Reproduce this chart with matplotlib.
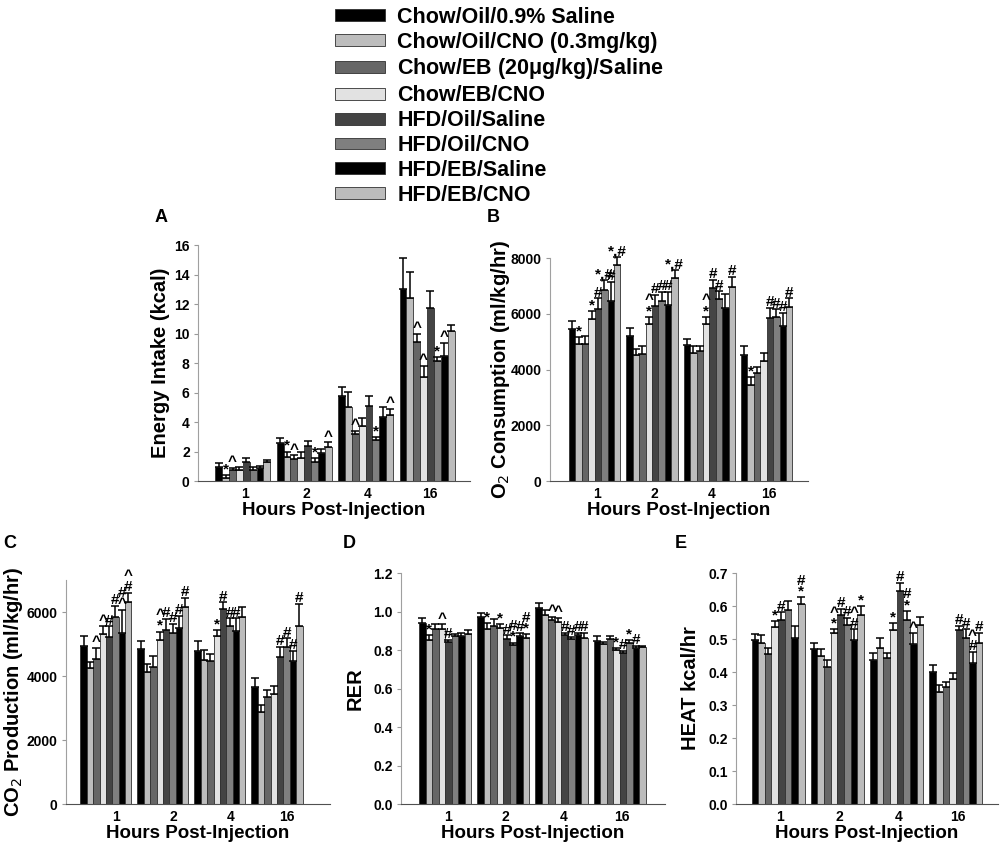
import numpy as np
import matplotlib
matplotlib.use('Agg')
import matplotlib.pyplot as plt

# 8 treatment groups, 4 time points (hours post-injection)
hours = ['1', '2', '4', '16']
groups = ['Chow/Oil/0.9% Saline', 'Chow/Oil/CNO (0.3mg/kg)', 'Chow/EB (20$\\mathregular{\\mu}$g/kg)/Saline',
          'Chow/EB/CNO', 'HFD/Oil/Saline', 'HFD/Oil/CNO', 'HFD/EB/Saline', 'HFD/EB/CNO']
colors = ['#000000', '#bdbdbd', '#666666', '#e2e2e2', '#444444', '#7f7f7f', '#000000', '#bcbcbc']

# rows = hours, columns = groups
energy_mean = [[0.97, 0.23, 0.72, 0.75, 1.29, 0.75, 0.88, 1.27],
               [2.60, 1.65, 1.50, 1.56, 2.37, 1.29, 1.88, 2.33],
               [5.79, 5.00, 3.16, 3.75, 5.10, 2.76, 4.36, 4.45],
               [13.0, 12.43, 9.45, 7.07, 11.75, 8.16, 8.47, 10.19]]
energy_err = [[0.23, 0.17, 0.18, 0.20, 0.29, 0.22, 0.16, 0.13],
              [0.32, 0.35, 0.24, 0.39, 0.34, 0.27, 0.32, 0.29],
              [0.61, 1.03, 0.25, 0.55, 0.66, 0.24, 0.68, 0.43],
              [2.10, 1.72, 0.55, 0.73, 1.13, 0.27, 0.91, 0.41]]
energy_sig = [['', '*', '^', '', '', '', '', ''],
              ['', '*', '^', '', '', '*', '', '^'],
              ['', '', '^', '', '', '*', '', '^'],
              ['', '', '^', '^', '', '*', '^', '']]

o2_mean = [[5470, 4920, 4920, 5820, 6170, 6860, 6470, 7740],
           [5220, 4510, 4560, 5620, 6290, 6470, 6320, 7280],
           [4870, 4600, 4680, 5620, 6920, 6530, 6210, 6960],
           [4510, 3460, 3880, 4300, 5860, 5880, 5580, 6250]]
o2_err = [[270, 240, 280, 290, 390, 340, 670, 300],
          [260, 230, 280, 280, 390, 330, 460, 300],
          [230, 260, 180, 280, 300, 280, 500, 360],
          [320, 280, 220, 300, 360, 280, 460, 300]]
o2_sig = [['', '*', '', '*', '#', '*,#', '#', '*,#'],
          ['', '', '', '^\n*', '#', '#', '#', '*,#'],
          ['', '', '', '^\n*', '#', '#', '', '#'],
          ['', '*', '', '', '#', '#', '#', '#']]

co2_mean = [[4950, 4250, 4530, 5320, 5210, 5860, 5340, 6310],
            [4830, 4120, 4280, 5130, 5450, 5340, 5500, 6160],
            [4770, 4510, 4460, 5260, 6090, 5570, 5420, 5840],
            [3650, 2870, 3340, 3430, 4610, 4920, 4460, 5570]]
co2_err = [[310, 200, 360, 230, 340, 340, 730, 300],
           [250, 260, 360, 260, 340, 290, 390, 280],
           [310, 310, 230, 170, 210, 240, 390, 310],
           [280, 230, 230, 260, 310, 260, 330, 680]]
co2_sig = [['', '', '^', '^', '#', '#', '#\n^', '^\n#'],
           ['', '', '', '^\n*', '#', '#', '#', '#'],
           ['', '', '', '*', '#', '#', '#', ''],
           ['', '', '', '', '#', '#', '#', '#']]

rer_mean = [[0.942, 0.854, 0.911, 0.911, 0.842, 0.871, 0.873, 0.882],
            [0.972, 0.911, 0.925, 0.915, 0.859, 0.825, 0.873, 0.865],
            [1.020, 0.980, 0.955, 0.946, 0.877, 0.856, 0.877, 0.865],
            [0.847, 0.830, 0.858, 0.799, 0.787, 0.839, 0.813, 0.815]]
rer_err = [[0.025, 0.023, 0.026, 0.023, 0.012, 0.011, 0.016, 0.021],
           [0.021, 0.030, 0.035, 0.022, 0.018, 0.014, 0.016, 0.017],
           [0.024, 0.030, 0.017, 0.022, 0.012, 0.012, 0.014, 0.024],
           [0.028, 0.012, 0.014, 0.012, 0.008, 0.012, 0.008, 0.008]]
rer_sig = [['', '*', '', '^', '#', '', '', ''],
           ['', '*', '', '*', '#', '#\n*', '#', '#\n*'],
           ['', '', '^', '^', '#', '#', '#', '#'],
           ['', '', '', '*', '#', '*', '#', '']]

heat_mean = [[0.497, 0.488, 0.456, 0.537, 0.559, 0.589, 0.504, 0.607],
             [0.471, 0.450, 0.416, 0.517, 0.574, 0.544, 0.496, 0.574],
             [0.438, 0.473, 0.443, 0.526, 0.647, 0.559, 0.485, 0.544],
             [0.401, 0.339, 0.356, 0.378, 0.526, 0.504, 0.426, 0.488]]
heat_err = [[0.017, 0.024, 0.017, 0.017, 0.022, 0.027, 0.035, 0.019],
            [0.017, 0.020, 0.022, 0.012, 0.018, 0.020, 0.033, 0.025],
            [0.020, 0.031, 0.015, 0.023, 0.023, 0.027, 0.032, 0.022],
            [0.020, 0.022, 0.014, 0.020, 0.015, 0.025, 0.035, 0.031]]
heat_sig = [['', '', '', '*', '#', '', '', '#\n*'],
            ['', '', '', '^\n*', '#', '#', '^\n#', '*'],
            ['', '', '', '*', '#', '#\n*', '^', ''],
            ['', '', '', '', '#', '#', '^\n#', '#']]

FONT = ['Liberation Sans', 'DejaVu Sans']
W = 0.112


def draw_panel(fig, rect, letter, letter_px, mean, err, sig, ylim, yticks, ylabel, fmt, xlim, ylab_x,
               tick_shift=0.04):
    ax = fig.add_axes(rect)
    mean = np.array(mean)
    err = np.array(err)
    x = np.arange(len(hours))
    bars = []
    for i in range(len(groups)):
        xs = x + (i - 3.5) * W
        b = ax.bar(xs, mean[:, i], W, color=colors[i], edgecolor='#303030', linewidth=0.6, zorder=2)
        bars.append(b)
        ax.errorbar(xs, mean[:, i], yerr=[np.zeros(len(x)), err[:, i]], fmt='none', ecolor='black',
                    elinewidth=1.1, capsize=2.6, capthick=1.1, zorder=3, clip_on=False)
        for j in range(len(x)):
            if sig[j][i]:
                ax.annotate(sig[j][i], (xs[j], mean[j, i] + err[j, i]), xytext=(0, -1),
                            textcoords='offset points', ha='center', va='bottom', fontsize=11,
                            fontweight='bold', family=FONT, linespacing=0.7, annotation_clip=False)

    ax.set_xlim(*xlim)
    ax.set_ylim(*ylim)
    ax.set_yticks(yticks)
    ax.set_yticklabels([fmt.format(v) for v in yticks], fontsize=10, fontweight='bold', family=FONT)
    ax.set_xticks(x + tick_shift)
    ax.set_xticklabels(hours, fontsize=10, fontweight='bold', family=FONT)
    ax.tick_params(axis='x', length=0, pad=4)
    ax.tick_params(axis='y', length=3, color='#999999', pad=3)
    for s in ['top', 'right']:
        ax.spines[s].set_visible(False)
    ax.spines['left'].set_color('#a0a0a0')
    ax.spines['bottom'].set_color('#505050')
    ax.set_xlabel('Hours Post-Injection', fontsize=13.5, fontweight='bold', family=FONT, labelpad=1)
    ax.set_ylabel(ylabel, fontsize=14.5, fontweight='bold', family=FONT)
    ax.yaxis.set_label_coords(ylab_x, 0.5)
    fig.text(letter_px[0] / 1000, 1 - letter_px[1] / 842, letter, ha='left', va='center',
             fontsize=13, fontweight='bold', family=FONT)
    return bars


def main():
    fig = plt.figure(figsize=(10, 8.42), dpi=100)

    bars = draw_panel(fig, [0.198, 0.4287, 0.272, 0.2803], 'A', (155, 218), energy_mean, energy_err,
                      energy_sig, (0, 16), np.arange(0, 17, 2), 'Energy Intake (kcal)', '{:.0f}',
                      (-0.73, 3.70), -0.103)
    draw_panel(fig, [0.550, 0.4287, 0.258, 0.2648], 'B', (487, 218), o2_mean, o2_err, o2_sig,
               (0, 8000), np.arange(0, 8001, 2000), 'O$_2$ Consumption (ml/kg/hr)', '{:.0f}',
               (-0.78, 3.72), -0.147)
    draw_panel(fig, [0.066, 0.0451, 0.264, 0.266], 'C', (3, 543), co2_mean, co2_err, co2_sig,
               (0, 7000), np.arange(0, 6001, 2000), 'CO$_2$ Production (ml/kg/hr)', '{:.0f}',
               (-0.70, 3.93), -0.155, tick_shift=0.18)
    draw_panel(fig, [0.401, 0.0451, 0.264, 0.2743], 'D', (343, 543), rer_mean, rer_err, rer_sig,
               (0, 1.2), np.arange(0, 1.21, 0.2), 'RER', '{:.1f}', (-0.76, 3.78), -0.136)
    draw_panel(fig, [0.736, 0.0451, 0.262, 0.2743], 'E', (675, 543), heat_mean, heat_err, heat_sig,
               (0, 0.7), np.arange(0, 0.71, 0.1), 'HEAT kcal/hr', '{:.1f}', (-0.71, 3.71), -0.137)

    fig.legend(bars, groups, loc='upper left', bbox_to_anchor=(0.335, 0.992), frameon=False,
               prop={'family': FONT, 'weight': 'bold', 'size': 15.5}, handlelength=2.3,
               handleheight=0.47, labelspacing=0.18, handletextpad=0.6, borderpad=0, borderaxespad=0)

    fig.savefig('out.png', dpi=100)


if __name__ == '__main__':
    main()
